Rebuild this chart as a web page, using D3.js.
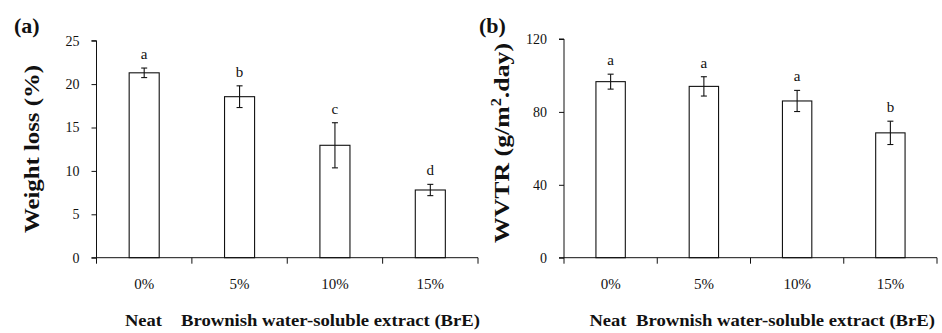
<!DOCTYPE html>
<html>
<head>
<meta charset="utf-8">
<script src="https://cdn.jsdelivr.net/npm/d3@7"></script>
<style>
  body { margin: 0; background: #fff; }
  svg { display: block; }
  text { font-family: "Liberation Serif", "Times New Roman", serif; fill: #111; }
  .tick text { font-size: 14px; }
  .bold { font-weight: bold; }
</style>
</head>
<body>
<div id="container"><svg></svg></div>
<script>
let width = 942;
let height = 333;

let categories = ['0%', '5%', '10%', '15%'];

// panel (a)
let weightLoss = [21.3, 18.55, 12.95, 7.8];
let weightLossErr = [0.55, 1.25, 2.6, 0.65];
let weightLossLetters = ['a', 'b', 'c', 'd'];
let weightLossTicks = [0, 5, 10, 15, 20, 25];

// panel (b)
let wvtr = [96.6, 94.0, 86.0, 68.5];
let wvtrErr = [4.1, 5.3, 5.8, 6.4];
let wvtrLetters = ['a', 'a', 'a', 'b'];
let wvtrTicks = [0, 40, 80, 120];

let svg = d3.select('#container').select('svg')
    .attr('width', width)
    .attr('height', height);

function draw_panel(opt) {
    let g = svg.append('g');

    let x = d3.scaleBand()
        .domain(categories)
        .range([opt.left, opt.right])
        .padding(0);
    let y = d3.scaleLinear()
        .domain([0, opt.max])
        .range([opt.bottom, opt.top]);
    let bw = x.bandwidth() * 0.315;

    // bars
    g.selectAll('rect.bar')
        .data(opt.values)
        .enter().append('rect')
        .attr('class', 'bar')
        .attr('x', (d, i) => x(categories[i]) + x.bandwidth() / 2 - bw / 2)
        .attr('y', d => y(d))
        .attr('width', bw)
        .attr('height', d => y(0) - y(d))
        .attr('fill', '#fff')
        .attr('stroke', '#111')
        .attr('stroke-width', 1.1);

    // error bars
    let eb = g.selectAll('g.err')
        .data(opt.values)
        .enter().append('g')
        .attr('class', 'err')
        .attr('stroke', '#111')
        .attr('stroke-width', 1.1);
    eb.append('line')
        .attr('x1', (d, i) => x(categories[i]) + x.bandwidth() / 2)
        .attr('x2', (d, i) => x(categories[i]) + x.bandwidth() / 2)
        .attr('y1', (d, i) => y(d + opt.err[i]))
        .attr('y2', (d, i) => y(d - opt.err[i]));
    [1, -1].forEach(s => {
        eb.append('line')
            .attr('x1', (d, i) => x(categories[i]) + x.bandwidth() / 2 - 3)
            .attr('x2', (d, i) => x(categories[i]) + x.bandwidth() / 2 + 3)
            .attr('y1', (d, i) => y(d + s * opt.err[i]))
            .attr('y2', (d, i) => y(d + s * opt.err[i]));
    });

    // significance letters
    g.selectAll('text.letter')
        .data(opt.values)
        .enter().append('text')
        .attr('class', 'letter')
        .attr('x', (d, i) => x(categories[i]) + x.bandwidth() / 2)
        .attr('y', (d, i) => y(d + opt.err[i]) - 9)
        .attr('text-anchor', 'middle')
        .attr('font-size', '15px')
        .text((d, i) => opt.letters[i]);

    // y axis
    let axis_y = d3.axisLeft(y)
        .tickValues(opt.ticks)
        .tickSize(5)
        .tickPadding(12)
        .tickFormat(d => d);
    let ay = g.append('g')
        .attr('transform', `translate(${opt.left}, 0)`)
        .call(axis_y);
    ay.select('.domain').attr('d', `M-5,${y(opt.max)}H0V${y(0)}`);

    // x axis, ticks between categories
    let ax = g.append('g')
        .attr('transform', `translate(0, ${opt.bottom})`);
    ax.append('line')
        .attr('x1', opt.left - 5).attr('x2', opt.right)
        .attr('stroke', '#111');
    let bounds = categories.map(c => x(c)).concat([opt.right]);
    ax.selectAll('line.tk')
        .data(bounds)
        .enter().append('line')
        .attr('class', 'tk')
        .attr('x1', d => d).attr('x2', d => d)
        .attr('y1', 0).attr('y2', 6)
        .attr('stroke', '#111');
    ax.selectAll('text')
        .data(categories)
        .enter().append('text')
        .attr('x', d => x(d) + x.bandwidth() / 2)
        .attr('y', 31)
        .attr('text-anchor', 'middle')
        .attr('font-size', '15px')
        .text(d => d);

    g.selectAll('.tick text').attr('font-size', '15px').attr('fill', '#111');
    g.selectAll('.tick line, .domain').attr('stroke', '#111');

    // bottom group labels
    g.append('text')
        .attr('class', 'bold')
        .attr('x', opt.neatX)
        .attr('y', 326)
        .attr('text-anchor', 'middle')
        .attr('font-size', '16px')
        .attr('textLength', 37)
        .attr('lengthAdjust', 'spacingAndGlyphs')
        .text('Neat');
    g.append('text')
        .attr('class', 'bold')
        .attr('x', opt.breX)
        .attr('y', 326)
        .attr('font-size', '16px')
        .attr('textLength', opt.breW)
        .attr('lengthAdjust', 'spacingAndGlyphs')
        .text('Brownish water-soluble extract (BrE)');

    // y title
    let yt = g.append('text')
        .attr('class', 'bold')
        .attr('transform', `translate(${opt.titleX}, ${opt.titleY}) rotate(-90)`)
        .attr('text-anchor', 'middle')
        .attr('font-size', '22px')
        .attr('textLength', opt.titleW)
        .attr('lengthAdjust', 'spacingAndGlyphs');
    opt.title(yt);

    // panel tag
    g.append('text')
        .attr('class', 'bold')
        .attr('x', opt.tagX)
        .attr('y', 33)
        .attr('font-size', '22px')
        .text(opt.tag);
}

draw_panel({
    left: 96.5, right: 478, top: 40.7, bottom: 257.7, max: 25,
    values: weightLoss, err: weightLossErr, letters: weightLossLetters, ticks: weightLossTicks,
    neatX: 143.5, breX: 181, breW: 299,
    titleX: 39, titleY: 149, titleW: 168,
    title: t => t.text('Weight loss (%)'),
    tagX: 14, tag: '(a)'
});

draw_panel({
    left: 564, right: 937, top: 39, bottom: 257.7, max: 120,
    values: wvtr, err: wvtrErr, letters: wvtrLetters, ticks: wvtrTicks,
    neatX: 608, breX: 636, breW: 299,
    titleX: 509, titleY: 143, titleW: 200,
    title: t => {
        t.append('tspan').text('WVTR (g/m');
        t.append('tspan').attr('dy', -8).attr('font-size', '14px').text('2');
        t.append('tspan').attr('dy', 8).text('.day)');
    },
    tagX: 479, tag: '(b)'
});
</script>
</body>
</html>
